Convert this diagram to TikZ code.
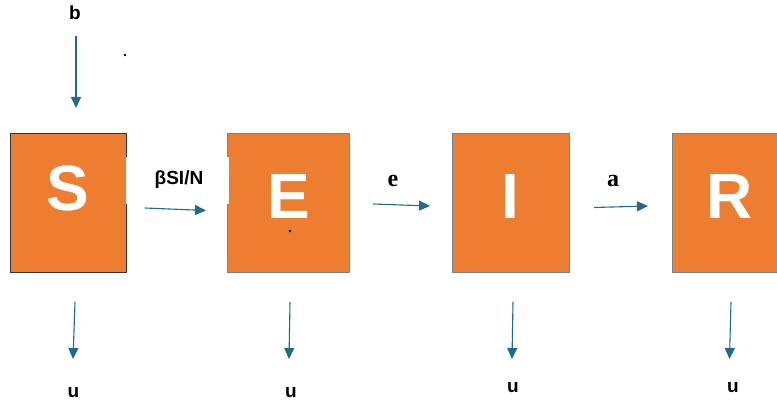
\documentclass[tikz,border=0pt]{standalone}
\usepackage{fontspec}
\setmainfont{Liberation Sans}
\newfontfamily\serifbf{Liberation Serif}
\usetikzlibrary{arrows.meta}
\definecolor{boxorange}{HTML}{ED7D31}
\definecolor{arrowblue}{HTML}{1F6B8E}
\definecolor{edgegray}{HTML}{6F8794}
\tikzset{
  compbox/.style={draw=edgegray, line width=1pt, fill=boxorange, minimum height=139pt, inner sep=0pt},
  lettr/.style={text=white, font=\fontsize{64}{64}\selectfont\bfseries, inner sep=0pt},
  flowarrow/.style={draw=arrowblue, line width=1.1pt, -{Triangle[length=11pt,width=10pt]}},
  lbl/.style={font=\fontsize{19}{19}\selectfont\bfseries, inner sep=0pt},
  serlbl/.style={font=\fontsize{24}{24}\serifbf\bfseries, inner sep=0pt},
  dotmark/.style={fill=black, circle, inner sep=0pt, minimum size=2.6pt}
}
\begin{document}
\begin{tikzpicture}[x=1pt, y=-1pt]
\clip (0,0) rectangle (777,406);
\fill[white] (0,0) rectangle (777,406);
% boxes
\node[compbox, draw=black!80, minimum width=116pt] (S) at (68,203.5) {};
\node[compbox, minimum width=122pt] (E) at (288,203.5) {};
\node[compbox, minimum width=117pt] (I) at (510.5,203.5) {};
\node[compbox, minimum width=120pt] (R) at (732,203.5) {};
% letters
\node[lettr] (Sl) at (68,188.5) {S};
\node[lettr] (El) at (289,196) {E};
\node[lettr] (Il) at (510,196) {I};
\node[lettr] (Rl) at (730,196) {R};
% rate label (white text box over box edges)
\node[lbl, fill=white, minimum width=103pt, minimum height=47pt] (rate) at (177.1,180.5) {};
\node[lbl] (ratetxt) at (179,180) {βSI/N};
% b inflow
\node[lbl] (b) at (75,13) {b};
\coordinate (b1) at (76,36);
\coordinate (b2) at (76,108);
\draw[flowarrow] (b1) -- (b2);
% horizontal flows
\coordinate (se1) at (145,208);
\coordinate (se2) at (206,210.5);
\draw[flowarrow] (se1) -- (se2);
\node[serlbl] (e) at (393,181) {e};
\coordinate (ei1) at (373,204);
\coordinate (ei2) at (430,206);
\draw[flowarrow] (ei1) -- (ei2);
\node[serlbl] (a) at (613,181) {a};
\coordinate (ir1) at (594,207.5);
\coordinate (ir2) at (648,206);
\draw[flowarrow] (ir1) -- (ir2);
% outflows
\coordinate (us1) at (75,302);
\coordinate (us2) at (73,359);
\draw[flowarrow] (us1) -- (us2);
\node[lbl] (uS) at (73.5,393) {u};
\coordinate (ue1) at (290,302);
\coordinate (ue2) at (289,359);
\draw[flowarrow] (ue1) -- (ue2);
\node[lbl] (uE) at (291,393) {u};
\coordinate (ui1) at (513,302);
\coordinate (ui2) at (512,359);
\draw[flowarrow] (ui1) -- (ui2);
\node[lbl] (uI) at (513,388) {u};
\coordinate (ur1) at (731,302);
\coordinate (ur2) at (729.5,359);
\draw[flowarrow] (ur1) -- (ur2);
\node[lbl] (uR) at (733,388) {u};
% stray dots
\node[dotmark] (d1) at (125,55) {};
\node[dotmark] (d2) at (290,231) {};
\end{tikzpicture}
\end{document}
